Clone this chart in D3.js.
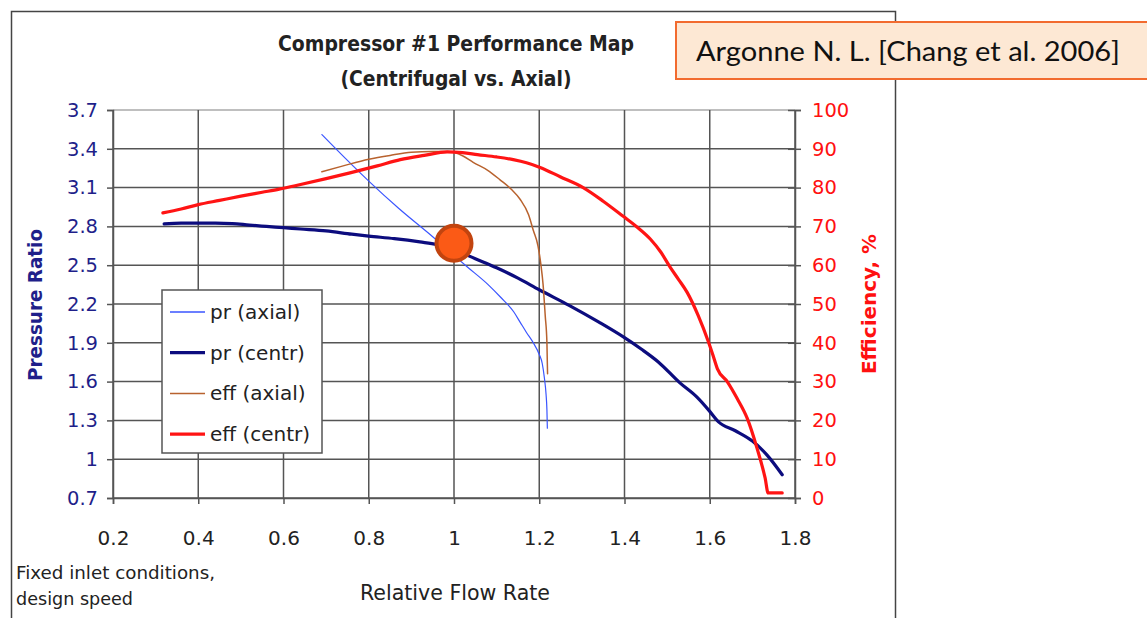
<!DOCTYPE html>
<html><head><meta charset="utf-8">
<script src="https://cdn.jsdelivr.net/npm/d3@7"></script>
<style>html,body{margin:0;padding:0;background:#fff;}svg{display:block;}text{font-family:"DejaVu Sans",sans-serif;}</style>
</head><body>
<script>
// ---- data ----
const xTicks = [0.2,0.4,0.6,0.8,1.0,1.2,1.4,1.6,1.8];
const xTickLabels = ["0.2","0.4","0.6","0.8","1","1.2","1.4","1.6","1.8"];
const prTicks = [0.7,1.0,1.3,1.6,1.9,2.2,2.5,2.8,3.1,3.4,3.7];
const prTickLabels = ["0.7","1","1.3","1.6","1.9","2.2","2.5","2.8","3.1","3.4","3.7"];
const effTicks = [0,10,20,30,40,50,60,70,80,90,100];
const seriesNames = ["pr (axial)","pr (centr)","eff (axial)","eff (centr)"];
const prAxial = [[0.69,3.51],[0.75,3.31],[0.80,3.15],[0.87,2.94],[0.95,2.72],[1.03,2.49],[1.08,2.35],[1.11,2.25],[1.14,2.14],[1.155,2.06],[1.17,1.98],[1.186,1.90],[1.20,1.81],[1.207,1.74],[1.212,1.63],[1.216,1.50],[1.218,1.38],[1.219,1.24]];
const prCentr = [[0.32,2.82],[0.36,2.825],[0.40,2.825],[0.44,2.825],[0.48,2.822],[0.52,2.81],[0.56,2.80],[0.60,2.79],[0.64,2.78],[0.70,2.765],[0.76,2.74],[0.80,2.725],[0.86,2.705],[0.92,2.68],[0.96,2.66],[1.00,2.62],[1.05,2.55],[1.10,2.48],[1.15,2.40],[1.20,2.31],[1.27,2.19],[1.34,2.06],[1.40,1.94],[1.44,1.85],[1.48,1.75],[1.53,1.59],[1.57,1.48],[1.60,1.37],[1.62,1.29],[1.66,1.22],[1.70,1.14],[1.735,1.03],[1.77,0.88]];
const effAxial = [[0.69,84.1],[0.74,85.6],[0.80,87.3],[0.85,88.3],[0.90,89.1],[0.95,89.3],[0.985,89.3],[1.02,88.2],[1.045,86.5],[1.08,84.4],[1.108,82],[1.135,79.5],[1.155,77],[1.175,73],[1.186,69],[1.197,65],[1.204,60],[1.209,55],[1.214,47],[1.218,40],[1.2195,32]];
const effCentr = [[0.317,73.5],[0.36,74.5],[0.40,75.6],[0.45,76.7],[0.50,77.8],[0.55,78.8],[0.59,79.6],[0.64,80.8],[0.70,82.3],[0.756,83.8],[0.82,85.6],[0.874,87.2],[0.93,88.3],[0.984,89.2],[1.02,89.0],[1.055,88.5],[1.10,87.9],[1.139,87.2],[1.17,86.4],[1.202,85.2],[1.249,82.8],[1.303,80],[1.35,76.5],[1.397,72.6],[1.43,69.8],[1.461,66.7],[1.485,63.4],[1.507,59.5],[1.527,56.3],[1.547,53],[1.573,47],[1.597,40.2],[1.607,37],[1.618,33.3],[1.641,30],[1.665,25.5],[1.688,20.5],[1.711,12.8],[1.730,5.1],[1.737,1.3],[1.77,1.3]];
const designPoint = [[1.0,2.67]];
const titleLines = ["Compressor #1 Performance Map","(Centrifugal vs. Axial)"];
const noteLines = ["Fixed inlet conditions,","design speed"];
const sourceText = "Argonne N. L. [Chang et al. 2006]";

// ---- layout ----
const W = 1147, H = 618;
const L = 113, R = 795, T = 110, B = 498;
const navy = "#1f1f8a", red = "#ff1010";
const svg = d3.select("body").append("svg").attr("width", W).attr("height", H);

const x = d3.scaleLinear().domain([0.2,1.8]).range([L,R]);
const yP = d3.scaleLinear().domain([0.7,3.7]).range([B,T]);
const yE = d3.scaleLinear().domain([0,100]).range([B,T]);

// outer frame
svg.append("rect").attr("x",11.5).attr("y",11.5).attr("width",884).attr("height",H+20)
  .attr("fill","none").attr("stroke","#444").attr("stroke-width",1.5);

// grid
const grid = svg.append("g").attr("stroke","#555").attr("stroke-width",1.5);
grid.selectAll("line.h").data(prTicks).join("line").attr("class","h")
  .attr("x1",L).attr("x2",R).attr("y1",d=>yP(d)).attr("y2",d=>yP(d))
  .attr("stroke",(d,i)=> i===prTicks.length-1 ? "#aaa" : "#555");
grid.selectAll("line.v").data(xTicks).join("line").attr("class","v")
  .attr("y1",T).attr("y2",B).attr("x1",d=>x(d)).attr("x2",d=>x(d));

// left axis
const la = svg.append("g").attr("transform",`translate(${L},0)`)
  .call(d3.axisLeft(yP).tickValues(prTicks).tickFormat((d,i)=>prTickLabels[i]).tickSize(6).tickPadding(9));
la.select(".domain").attr("stroke","#555").attr("stroke-width",1.5);
la.selectAll(".tick line").attr("stroke","#555").attr("stroke-width",1.5);
la.selectAll(".tick text").attr("fill",navy).style("font-size","19.5px").style("font-family","DejaVu Sans");

// bottom axis
const ba = svg.append("g").attr("transform",`translate(0,${B})`)
  .call(d3.axisBottom(x).tickValues(xTicks).tickFormat((d,i)=>xTickLabels[i]).tickSize(6).tickPadding(27));
ba.select(".domain").attr("stroke","#555").attr("stroke-width",1.5);
ba.selectAll(".tick line").attr("stroke","#555").attr("stroke-width",1.5);
ba.selectAll(".tick text").attr("fill","#222").style("font-size","20px").style("font-family","DejaVu Sans");

// right axis
const ra = svg.append("g").attr("transform",`translate(${R},0)`)
  .call(d3.axisRight(yE).tickValues(effTicks).tickSize(6).tickPadding(11));
ra.select(".domain").attr("stroke","#555").attr("stroke-width",1.5);
ra.selectAll(".tick line").attr("stroke","#555").attr("stroke-width",1.5).attr("x1",-7);
ra.selectAll(".tick text").attr("fill",red).style("font-size","19.5px").style("font-family","DejaVu Sans");

// series
const curve = d3.curveMonotoneX;
const lineP = d3.line().x(d=>x(d[0])).y(d=>yP(d[1])).curve(curve);
const lineE = d3.line().x(d=>x(d[0])).y(d=>yE(d[1])).curve(curve);
const styles = [
  {data:prAxial, gen:lineP, color:"#3a55ff", w:1.2},
  {data:prCentr, gen:lineP, color:"#0c0c7e", w:3.2},
  {data:effAxial, gen:lineE, color:"#b8622e", w:1.5},
  {data:effCentr, gen:lineE, color:"#ff1414", w:3.2}
];
styles.forEach(s=>{
  svg.append("path").attr("d",s.gen(s.data)).attr("fill","none")
    .attr("stroke",s.color).attr("stroke-width",s.w).attr("stroke-linejoin","round").attr("stroke-linecap","round");
});

// design point
svg.selectAll("circle.dp").data(designPoint).join("circle").attr("class","dp")
  .attr("cx",d=>x(d[0])).attr("cy",d=>yP(d[1])).attr("r",17.5)
  .attr("fill","#fb5a16").attr("stroke","#c2440f").attr("stroke-width",4);

// legend
const lg = svg.append("g").attr("transform","translate(162,290)");
lg.append("rect").attr("width",160).attr("height",163).attr("fill","#fff").attr("stroke","#555").attr("stroke-width",1.5);
seriesNames.forEach((n,i)=>{
  const yy = 22 + i*40.7;
  lg.append("line").attr("x1",8).attr("x2",43).attr("y1",yy).attr("y2",yy)
    .attr("stroke",styles[i].color).attr("stroke-width",Math.max(styles[i].w,1.3));
  lg.append("text").attr("x",48).attr("y",yy+7).attr("fill","#222").style("font-size","20px").text(n);
});

// titles
const titleWidths = [356, 231];
titleLines.forEach((t,i)=>{
  svg.append("text").attr("x",456).attr("y",51+i*35).attr("text-anchor","middle")
    .attr("fill","#222").style("font-size","21px").style("font-weight","bold")
    .attr("textLength",titleWidths[i]).attr("lengthAdjust","spacingAndGlyphs").text(t);
});

// axis titles
svg.append("text").attr("transform","translate(42,305) rotate(-90)").attr("text-anchor","middle")
  .attr("fill",navy).style("font-size","20px").style("font-weight","bold")
  .attr("textLength",152).attr("lengthAdjust","spacingAndGlyphs").text("Pressure Ratio");
svg.append("text").attr("transform","translate(876,304) rotate(-90)").attr("text-anchor","middle")
  .attr("fill",red).style("font-size","19.5px").style("font-weight","bold")
  .attr("textLength",140).attr("lengthAdjust","spacingAndGlyphs").text("Efficiency, %");
svg.append("text").attr("x",455).attr("y",600).attr("text-anchor","middle")
  .attr("fill","#222").style("font-size","20.5px")
  .attr("textLength",190).attr("lengthAdjust","spacingAndGlyphs").text("Relative Flow Rate");
const noteWidths = [199, 117];
noteLines.forEach((t,i)=>{
  svg.append("text").attr("x",16).attr("y",579+i*26).attr("fill","#222").style("font-size","18px")
    .attr("textLength",noteWidths[i]).attr("lengthAdjust","spacingAndGlyphs").text(t);
});

// source box
svg.append("rect").attr("x",676).attr("y",22).attr("width",490).attr("height",57)
  .attr("fill","#fde8d4").attr("stroke","#f26b2f").attr("stroke-width",2);
svg.append("text").attr("x",696).attr("y",61).attr("fill","#111")
  .style("font-family","Lato, 'Open Sans', sans-serif").style("font-size","27px")
  .attr("textLength",424).attr("lengthAdjust","spacingAndGlyphs").text(sourceText);
</script>
</body></html>
